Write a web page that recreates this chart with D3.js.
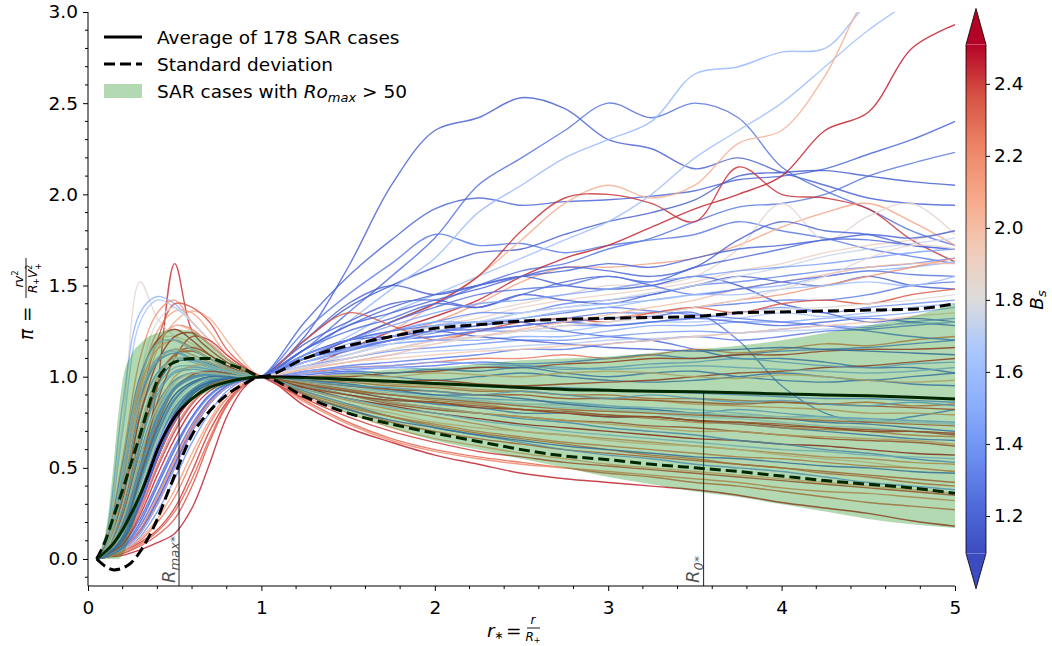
<!DOCTYPE html>
<html><head><meta charset="utf-8">
<script src="https://cdn.jsdelivr.net/npm/d3@7"></script>
<style>
body{margin:0;background:#fff}
svg{font-family:"DejaVu Sans",sans-serif}
</style>
</head><body>
<svg id="c" width="1052" height="646"></svg>
<script>
// ---------------- DATA ----------------
const rGrid = [0.05,0.1,0.2,0.3,0.4,0.5,0.6,0.7,0.8,0.9,1.0,1.25,1.5,1.75,2.0,2.25,2.5,2.75,3.0,3.25,3.5,3.75,4.0,4.25,4.5,4.75,5.0];

const caseBs = [1.20,1.26,1.22,1.28,1.18,1.30,1.58,1.62,2.05,2.45,2.42,2.10,1.85,1.90,1.25,1.35,1.20,1.55,1.30,1.40,1.65,1.20,2.15,2.35,1.80,1.25,1.50,1.30,
  2.30,1.30,2.40,1.45,2.20,1.25,2.45,1.60,2.00,2.35,1.20,2.25,1.70,2.50,1.35,2.15,1.40,2.30,1.55,2.40,1.25,2.10,1.30,2.45,
  2.45,2.30,2.20,2.40,2.10,
  1.45,2.25,1.25,2.45,1.60,2.05,1.20,2.35,1.45,2.25,1.35,1.75,2.40,
  1.40,1.25,1.70,1.30,1.20,1.95,
  1.22,1.75,1.45,2.00,1.28,1.60,1.22,1.85];

const caseValues = [
 [0,0.03,0.18,0.48,0.76,0.93,0.99,1.01,1.01,1.0,1,1.22,1.6,2.05,2.35,2.42,2.53,2.47,2.3,2.25,2.14,2.2,2.12,2.05,1.98,1.95,1.94],
 [0,0.02,0.13,0.36,0.63,0.83,0.93,0.98,0.99,1.0,1,1.15,1.35,1.55,1.76,2.05,2.2,2.35,2.5,2.42,2.5,2.42,2.15,2.02,1.92,1.8,1.72],
 [0,0.02,0.08,0.22,0.42,0.62,0.78,0.9,0.96,0.99,1,1.3,1.55,1.75,1.92,1.98,1.94,1.96,1.97,1.99,2.02,2.08,2.1,2.14,2.22,2.3,2.4],
 [0,0.04,0.25,0.58,0.85,0.98,1.02,1.02,1.01,1.0,1,1.1,1.2,1.3,1.4,1.5,1.58,1.62,1.7,1.76,1.85,1.93,1.95,2.0,2.1,2.17,2.23],
 [0,0.02,0.1,0.3,0.55,0.76,0.9,0.96,0.99,1.0,1,1.2,1.38,1.5,1.6,1.68,1.7,1.78,1.85,1.9,1.97,2.1,2.12,2.13,2.1,2.07,2.05],
 [0,0.03,0.2,0.5,0.78,0.94,1.0,1.01,1.01,1.0,1,1.25,1.45,1.62,1.78,1.72,1.73,1.68,1.72,1.75,1.78,1.85,1.8,1.76,1.7,1.66,1.62],
 [0,0.05,0.38,0.85,1.1,1.15,1.12,1.08,1.04,1.02,1,1.12,1.3,1.48,1.65,1.9,2.05,2.2,2.3,2.4,2.66,2.7,2.78,2.8,3.05,3.2,3.3],
 [0,0.04,0.3,0.7,0.95,1.05,1.06,1.04,1.02,1.01,1,1.1,1.22,1.35,1.45,1.55,1.65,1.75,1.85,2.0,2.2,2.35,2.5,2.7,2.9,3.05,3.1],
 [0,0.03,0.3,0.8,1.15,1.3,1.36,1.32,1.2,1.08,1,1.05,1.15,1.25,1.4,1.55,1.75,1.95,2.05,1.98,2.05,2.28,2.35,2.65,3.1,3.3,3.4],
 [0,0.02,0.1,0.3,0.55,0.75,0.88,0.95,0.98,0.99,1,1.05,1.15,1.25,1.33,1.42,1.55,1.65,1.72,1.82,1.92,2.0,2.1,2.35,2.45,2.8,2.93],
 [0,0.02,0.12,0.45,0.95,1.62,1.25,1.15,1.08,1.03,1,1.1,1.2,1.3,1.4,1.55,1.8,1.98,2.0,1.95,1.85,2.15,2.0,1.98,1.92,1.75,1.63],
 [0,0.05,0.4,0.95,1.25,1.36,1.35,1.25,1.12,1.05,1,1.08,1.15,1.22,1.3,1.4,1.52,1.6,1.6,1.62,1.65,1.72,1.82,1.9,1.95,1.85,1.72],
 [0,0.12,0.75,1.52,1.32,1.22,1.15,1.1,1.05,1.02,1,1.05,1.12,1.2,1.28,1.35,1.4,1.45,1.5,1.5,1.55,1.7,1.95,1.75,1.88,1.95,1.78],
 [0,0.06,0.5,1.0,1.2,1.22,1.18,1.12,1.06,1.02,1,1.08,1.15,1.22,1.28,1.32,1.38,1.42,1.45,1.48,1.52,1.58,1.62,1.68,1.72,1.75,1.8],
 [0,0.02,0.1,0.28,0.5,0.7,0.85,0.94,0.98,0.99,1,1.15,1.25,1.32,1.4,1.38,1.45,1.52,1.55,1.52,1.6,1.65,1.7,1.75,1.75,1.72,1.7],
 [0,0.03,0.15,0.42,0.7,0.88,0.96,0.99,1.0,1.0,1,1.12,1.2,1.25,1.3,1.35,1.35,1.4,1.42,1.45,1.5,1.52,1.55,1.58,1.6,1.62,1.65],
 [0,0.01,0.06,0.16,0.32,0.52,0.7,0.85,0.94,0.98,1,1.18,1.3,1.4,1.42,1.38,1.45,1.42,1.4,1.45,1.5,1.55,1.52,1.5,1.55,1.5,1.48],
 [0,0.1,0.85,1.35,1.44,1.4,1.3,1.2,1.1,1.04,1,1.1,1.18,1.25,1.3,1.3,1.35,1.38,1.4,1.42,1.45,1.48,1.5,1.55,1.58,1.6,1.63],
 [0,0.02,0.12,0.35,0.6,0.8,0.92,0.97,0.99,1.0,1,1.1,1.15,1.2,1.25,1.28,1.3,1.32,1.35,1.35,1.38,1.4,1.42,1.42,1.45,1.5,1.52],
 [0,0.03,0.22,0.55,0.82,0.97,1.02,1.02,1.01,1.0,1,1.08,1.15,1.2,1.22,1.25,1.25,1.28,1.28,1.3,1.32,1.35,1.38,1.35,1.38,1.4,1.42],
 [0,0.08,0.7,1.3,1.42,1.38,1.3,1.2,1.1,1.04,1,1.08,1.12,1.18,1.2,1.22,1.25,1.25,1.28,1.3,1.3,1.32,1.35,1.33,1.35,1.38,1.4],
 [0,0.02,0.1,0.3,0.55,0.75,0.88,0.95,0.98,0.99,1,1.2,1.4,1.5,1.45,1.5,1.55,1.5,1.48,1.5,1.55,1.5,1.4,1.35,1.3,1.32,1.3],
 [0,0.08,0.55,1.1,1.35,1.42,1.3,1.2,1.1,1.04,1,1.05,1.1,1.15,1.2,1.25,1.28,1.3,1.32,1.35,1.38,1.42,1.45,1.5,1.55,1.6,1.65],
 [0,0.04,0.35,0.85,1.2,1.4,1.38,1.3,1.15,1.06,1,1.2,1.35,1.28,1.2,1.25,1.3,1.32,1.3,1.35,1.38,1.35,1.4,1.42,1.4,1.45,1.48],
 [0,0.05,0.45,1.0,1.3,1.38,1.3,1.2,1.1,1.04,1,1.05,1.1,1.15,1.2,1.22,1.25,1.28,1.3,1.32,1.33,1.35,1.37,1.38,1.4,1.42,1.45],
 [0,0.02,0.11,0.3,0.55,0.76,0.9,0.96,0.99,1.0,1,1.12,1.2,1.25,1.28,1.3,1.3,1.25,1.22,1.2,1.15,1.1,1.1,1.08,1.05,1.05,1.02],
 [0,0.04,0.28,0.65,0.92,1.03,1.05,1.04,1.02,1.01,1,1.1,1.15,1.18,1.2,1.2,1.22,1.22,1.25,1.28,1.28,1.3,1.3,1.32,1.33,1.35,1.38],
 [0,0.03,0.16,0.45,0.72,0.9,0.97,1.0,1.0,1.0,1,1.1,1.15,1.2,1.22,1.25,1.28,1.3,1.32,1.33,1.35,1.2,0.95,0.8,0.75,0.78,0.82],
 [0,0.02,0.1,0.3,0.55,0.75,0.88,0.95,0.98,0.99,1,0.98,0.97,0.95,0.94,0.92,0.92,0.9,0.9,0.88,0.88,0.87,0.86,0.85,0.86,0.84,0.85],
 [0,0.05,0.38,0.8,1.02,1.1,1.1,1.07,1.04,1.02,1,1.02,1.04,1.05,1.06,1.08,1.07,1.08,1.1,1.12,1.1,1.12,1.14,1.15,1.16,1.18,1.2],
 [0,0.01,0.04,0.09,0.16,0.28,0.48,0.7,0.86,0.96,1,0.95,0.9,0.85,0.82,0.8,0.78,0.76,0.75,0.73,0.72,0.7,0.68,0.66,0.65,0.64,0.62],
 [0,0.06,0.45,0.9,1.1,1.15,1.12,1.08,1.04,1.02,1,0.97,0.95,0.92,0.9,0.88,0.87,0.86,0.84,0.82,0.8,0.82,0.8,0.78,0.77,0.76,0.75],
 [0,0.04,0.3,0.72,1.0,1.12,1.14,1.1,1.06,1.02,1,0.93,0.87,0.82,0.78,0.74,0.7,0.68,0.66,0.64,0.62,0.6,0.58,0.56,0.55,0.53,0.52],
 [0,0.02,0.14,0.4,0.68,0.87,0.96,0.99,1.0,1.0,1,1.0,1.02,1.0,0.98,1.0,1.02,1.0,0.98,0.97,0.98,1.0,1.02,1.0,0.98,1.0,1.02],
 [0,0.07,0.5,0.98,1.2,1.26,1.2,1.12,1.06,1.02,1,1.0,0.98,0.97,0.98,0.96,0.95,0.96,0.97,0.98,1.0,1.02,1.03,1.05,1.06,1.08,1.1],
 [0,0.03,0.2,0.52,0.8,0.95,1.0,1.01,1.01,1.0,1,0.95,0.92,0.9,0.88,0.87,0.85,0.85,0.84,0.83,0.82,0.8,0.78,0.78,0.76,0.75,0.74],
 [0,0.01,0.06,0.18,0.36,0.56,0.74,0.87,0.95,0.98,1,0.92,0.85,0.8,0.75,0.72,0.7,0.68,0.65,0.63,0.62,0.6,0.57,0.55,0.53,0.5,0.48],
 [0,0.01,0.03,0.07,0.13,0.22,0.4,0.64,0.84,0.95,1,0.9,0.82,0.75,0.7,0.66,0.63,0.6,0.58,0.56,0.54,0.52,0.5,0.48,0.46,0.44,0.42],
 [0,0.04,0.3,0.7,0.96,1.08,1.09,1.06,1.03,1.01,1,0.98,0.96,0.93,0.9,0.9,0.88,0.85,0.83,0.82,0.8,0.78,0.77,0.75,0.74,0.72,0.7],
 [0,0.05,0.42,0.92,1.18,1.28,1.26,1.18,1.1,1.04,1,1.02,1.05,1.06,1.08,1.1,1.1,1.12,1.1,1.12,1.15,1.13,1.15,1.18,1.17,1.2,1.22],
 [0,0.02,0.12,0.34,0.6,0.8,0.92,0.97,0.99,1.0,1,0.96,0.93,0.9,0.88,0.86,0.84,0.83,0.82,0.8,0.78,0.77,0.75,0.73,0.72,0.7,0.68],
 [0,0.01,0.05,0.14,0.3,0.5,0.7,0.85,0.94,0.98,1,0.94,0.88,0.84,0.8,0.77,0.74,0.72,0.7,0.68,0.66,0.65,0.63,0.62,0.6,0.58,0.57],
 [0,0.01,0.06,0.2,0.4,0.6,0.77,0.89,0.96,0.99,1,0.95,0.9,0.86,0.83,0.8,0.77,0.75,0.72,0.7,0.68,0.65,0.63,0.6,0.58,0.55,0.53],
 [0,0.06,0.48,0.95,1.15,1.2,1.16,1.1,1.05,1.02,1,0.99,0.98,0.96,0.95,0.93,0.92,0.9,0.88,0.87,0.85,0.84,0.83,0.82,0.8,0.8,0.79],
 [0,0.01,0.04,0.12,0.26,0.44,0.64,0.8,0.92,0.98,1,0.92,0.85,0.78,0.72,0.68,0.64,0.6,0.57,0.55,0.52,0.5,0.48,0.45,0.42,0.4,0.38],
 [0,0.02,0.09,0.26,0.5,0.7,0.85,0.94,0.98,0.99,1,0.91,0.84,0.78,0.73,0.69,0.66,0.63,0.6,0.57,0.55,0.52,0.5,0.47,0.45,0.42,0.4],
 [0,0.05,0.36,0.8,1.02,1.1,1.08,1.05,1.03,1.01,1,1.02,1.03,1.05,1.04,1.05,1.06,1.05,1.04,1.05,1.06,1.05,1.04,1.03,1.02,1.03,1.05],
 [0,0.03,0.24,0.62,0.95,1.12,1.16,1.12,1.06,1.02,1,0.97,0.95,0.93,0.92,0.9,0.9,0.88,0.88,0.87,0.86,0.85,0.86,0.85,0.84,0.83,0.82],
 [0,0.01,0.05,0.15,0.32,0.52,0.72,0.87,0.95,0.99,1,0.95,0.92,0.88,0.85,0.83,0.8,0.8,0.78,0.78,0.76,0.74,0.72,0.7,0.68,0.66,0.65],
 [0,0.03,0.2,0.52,0.82,1.0,1.06,1.06,1.03,1.01,1,0.95,0.9,0.86,0.83,0.8,0.78,0.76,0.74,0.72,0.7,0.7,0.68,0.67,0.66,0.65,0.63],
 [0,0.06,0.52,1.0,1.18,1.2,1.15,1.1,1.05,1.02,1,1.03,1.06,1.08,1.1,1.12,1.15,1.15,1.18,1.2,1.22,1.2,1.22,1.25,1.26,1.28,1.3],
 [0,0.04,0.32,0.78,1.08,1.22,1.24,1.18,1.1,1.04,1,1.0,1.0,1.02,1.03,1.05,1.05,1.07,1.08,1.1,1.1,1.12,1.12,1.14,1.15,1.15,1.16],
 [0,0.01,0.02,0.05,0.09,0.14,0.28,0.52,0.78,0.94,1,0.84,0.72,0.64,0.57,0.52,0.47,0.44,0.42,0.4,0.38,0.35,0.31,0.28,0.25,0.21,0.18],
 [0,0.01,0.03,0.08,0.15,0.26,0.44,0.66,0.85,0.96,1,0.87,0.75,0.66,0.6,0.56,0.53,0.5,0.47,0.45,0.42,0.4,0.37,0.34,0.31,0.29,0.27],
 [0,0.02,0.1,0.28,0.52,0.72,0.86,0.94,0.98,0.99,1,0.86,0.74,0.65,0.59,0.55,0.52,0.5,0.48,0.46,0.44,0.42,0.39,0.37,0.36,0.34,0.32],
 [0,0.02,0.16,0.5,0.86,1.1,1.22,1.2,1.12,1.05,1,0.88,0.78,0.7,0.64,0.59,0.56,0.53,0.51,0.49,0.47,0.45,0.43,0.41,0.39,0.37,0.35],
 [0,0.01,0.04,0.11,0.22,0.38,0.58,0.76,0.9,0.97,1,0.89,0.8,0.72,0.66,0.62,0.58,0.55,0.52,0.5,0.48,0.46,0.44,0.42,0.4,0.38,0.36],
 [0,0.02,0.12,0.36,0.62,0.82,0.93,0.98,0.99,1.0,1,0.98,0.95,0.94,0.92,0.9,0.92,0.9,0.88,0.9,0.88,0.86,0.87,0.85,0.84,0.86,0.84],
 [0,0.01,0.05,0.16,0.34,0.54,0.72,0.86,0.94,0.98,1,0.96,0.92,0.9,0.87,0.85,0.82,0.8,0.79,0.77,0.75,0.74,0.72,0.71,0.7,0.68,0.67],
 [0,0.03,0.2,0.5,0.78,0.94,1.0,1.01,1.01,1.0,1,1.01,1.03,1.02,1.04,1.03,1.05,1.02,1.0,1.02,1.03,1.0,0.98,0.97,0.98,0.96,0.95],
 [0,0.02,0.08,0.24,0.46,0.66,0.82,0.92,0.97,0.99,1,0.94,0.9,0.87,0.86,0.83,0.82,0.8,0.78,0.78,0.76,0.75,0.73,0.72,0.7,0.7,0.69],
 [0,0.01,0.05,0.14,0.3,0.5,0.7,0.85,0.94,0.98,1,0.93,0.88,0.83,0.8,0.76,0.73,0.7,0.68,0.66,0.64,0.62,0.6,0.59,0.57,0.56,0.55],
 [0,0.05,0.4,0.85,1.08,1.15,1.12,1.08,1.04,1.02,1,1.0,1.01,1.0,1.02,1.01,1.0,1.02,1.03,1.02,1.0,0.99,1.01,1.0,0.98,0.97,0.98],
 [0,0.02,0.1,0.3,0.56,0.78,0.91,0.97,0.99,1.0,1,0.9,0.82,0.76,0.72,0.68,0.65,0.62,0.6,0.58,0.56,0.55,0.53,0.51,0.5,0.48,0.47],
 [0,0.04,0.28,0.68,0.98,1.12,1.14,1.1,1.05,1.02,1,0.97,0.93,0.9,0.88,0.86,0.84,0.82,0.81,0.8,0.79,0.78,0.77,0.76,0.75,0.74,0.73],
 [0,0.04,0.26,0.62,0.9,1.02,1.04,1.03,1.02,1.01,1,1.03,1.05,1.06,1.08,1.07,1.06,1.04,1.05,1.07,1.08,1.1,1.08,1.06,1.05,1.07,1.08],
 [0,0.01,0.04,0.1,0.2,0.34,0.54,0.74,0.88,0.96,1,0.9,0.83,0.78,0.74,0.7,0.67,0.64,0.62,0.6,0.58,0.56,0.55,0.53,0.51,0.5,0.48],
 [0,0.05,0.42,0.88,1.08,1.13,1.1,1.06,1.03,1.01,1,0.99,0.98,0.97,0.96,0.95,0.94,0.94,0.93,0.92,0.91,0.9,0.89,0.88,0.88,0.87,0.86],
 [0,0.02,0.14,0.4,0.66,0.85,0.95,0.99,1.0,1.0,1,0.97,0.94,0.91,0.89,0.87,0.85,0.84,0.82,0.81,0.8,0.79,0.78,0.77,0.76,0.75,0.74],
 [0,0.03,0.18,0.46,0.74,0.93,1.01,1.03,1.02,1.01,1,0.96,0.92,0.88,0.86,0.84,0.82,0.81,0.79,0.78,0.76,0.75,0.74,0.72,0.71,0.7,0.68],
 [0,0.03,0.2,0.5,0.78,0.94,1.0,1.01,1.01,1.0,1,1.06,1.1,1.14,1.16,1.18,1.2,1.2,1.22,1.24,1.25,1.24,1.26,1.28,1.27,1.3,1.32],
 [0,0.02,0.11,0.32,0.58,0.8,0.92,0.97,0.99,1.0,1,1.1,1.16,1.22,1.25,1.26,1.28,1.3,1.28,1.3,1.32,1.3,1.28,1.3,1.32,1.3,1.28],
 [0,0.06,0.5,0.98,1.18,1.2,1.15,1.1,1.05,1.02,1,1.05,1.08,1.12,1.14,1.15,1.17,1.18,1.2,1.21,1.22,1.24,1.25,1.26,1.28,1.29,1.3],
 [0,0.01,0.07,0.2,0.4,0.6,0.78,0.9,0.96,0.99,1,1.08,1.14,1.2,1.24,1.28,1.32,1.35,1.38,1.36,1.34,1.32,1.3,1.28,1.25,1.22,1.2],
 [0,0.03,0.16,0.44,0.72,0.9,0.97,1.0,1.0,1.0,1,1.12,1.2,1.22,1.25,1.22,1.2,1.18,1.16,1.15,1.14,1.15,1.16,1.15,1.14,1.13,1.12],
 [0,0.04,0.3,0.7,0.98,1.1,1.1,1.06,1.03,1.01,1,1.04,1.08,1.1,1.12,1.14,1.15,1.17,1.18,1.2,1.22,1.24,1.26,1.28,1.3,1.33,1.35],
 [0,0.02,0.1,0.3,0.56,0.77,0.9,0.96,0.99,1.0,1,1.15,1.28,1.38,1.45,1.5,1.55,1.58,1.62,1.6,1.65,1.7,1.72,1.75,1.78,1.76,1.8],
 [0,0.04,0.3,0.72,1.0,1.1,1.1,1.06,1.03,1.01,1,1.06,1.12,1.18,1.25,1.3,1.35,1.38,1.42,1.46,1.5,1.55,1.6,1.66,1.7,1.73,1.76],
 [0,0.03,0.18,0.48,0.76,0.93,0.99,1.01,1.01,1.0,1,1.12,1.2,1.28,1.35,1.4,1.42,1.45,1.48,1.52,1.55,1.58,1.6,1.62,1.65,1.68,1.7],
 [0,0.05,0.4,0.9,1.18,1.28,1.25,1.18,1.1,1.04,1,1.04,1.08,1.12,1.18,1.22,1.26,1.3,1.34,1.38,1.42,1.48,1.52,1.56,1.6,1.62,1.62],
 [0,0.01,0.06,0.18,0.36,0.56,0.74,0.87,0.95,0.98,1,1.1,1.2,1.3,1.38,1.45,1.48,1.5,1.55,1.5,1.45,1.48,1.52,1.55,1.58,1.56,1.55],
 [0,0.06,0.45,0.9,1.1,1.14,1.1,1.06,1.03,1.01,1,1.08,1.15,1.22,1.28,1.3,1.32,1.36,1.38,1.42,1.45,1.45,1.48,1.5,1.52,1.5,1.55],
 [0,0.02,0.12,0.34,0.6,0.8,0.92,0.97,0.99,1.0,1,1.15,1.28,1.35,1.42,1.48,1.55,1.6,1.58,1.55,1.6,1.75,1.85,1.8,1.78,1.72,1.7],
 [0,0.03,0.22,0.56,0.84,0.97,1.02,1.02,1.01,1.0,1,1.05,1.1,1.15,1.18,1.22,1.25,1.28,1.3,1.34,1.38,1.42,1.48,1.55,1.65,1.72,1.7]
];

// statistics grid
const statR = [0.05,0.1,0.15,0.2,0.25,0.3,0.35,0.4,0.45,0.5,0.6,0.7,0.8,0.9,1.0,1.25,1.5,1.75,2.0,2.25,2.5,2.75,3.0,3.25,3.5,3.75,4.0,4.25,4.5,4.75,5.0];
const meanV  = [0,0.04,0.09,0.16,0.25,0.35,0.47,0.6,0.7,0.78,0.88,0.94,0.97,0.99,1.0,0.995,0.985,0.975,0.962,0.952,0.94,0.93,0.925,0.92,0.918,0.912,0.905,0.9,0.895,0.887,0.878];
const stdUpV = [0,0.1,0.24,0.38,0.53,0.68,0.84,0.98,1.05,1.08,1.1,1.1,1.07,1.04,1.0,1.1,1.17,1.22,1.265,1.285,1.305,1.315,1.32,1.325,1.33,1.35,1.355,1.36,1.365,1.37,1.40];
const stdLoV = [0,-0.04,-0.06,-0.05,-0.02,0.04,0.12,0.22,0.34,0.46,0.68,0.81,0.9,0.96,1.0,0.89,0.8,0.74,0.69,0.645,0.6,0.565,0.545,0.52,0.5,0.48,0.455,0.43,0.41,0.39,0.36];

// Ro_max > 50 envelope
const bandR  = [0.05,0.08,0.11,0.14,0.17,0.2,0.25,0.3,0.35,0.4,0.5,0.6,0.7,0.8,0.9,1.0,1.25,1.5,1.75,2.0,2.25,2.5,2.75,3.0,3.25,3.5,3.75,4.0,4.25,4.5,4.75,5.0];
const bandHi = [0,0.06,0.2,0.45,0.75,0.98,1.12,1.18,1.22,1.24,1.26,1.25,1.18,1.1,1.05,1.0,1.0,1.02,1.04,1.05,1.07,1.09,1.1,1.11,1.13,1.15,1.17,1.2,1.24,1.28,1.33,1.4];
const bandLo = [0,0,0,0,0,0.02,0.15,0.32,0.5,0.64,0.8,0.87,0.92,0.95,0.98,1.0,0.9,0.8,0.72,0.65,0.6,0.55,0.5,0.45,0.41,0.37,0.34,0.3,0.26,0.22,0.19,0.17];

const rMaxStar = 0.525, r0Star = 3.55;
const xTicks = [0,1,2,3,4,5];
const yTicks = [0,0.5,1,1.5,2,2.5,3];
const cbTicks = [1.2,1.4,1.6,1.8,2.0,2.2,2.4];
const bsMin = 1.096, bsMax = 2.509;
const legendLabels = ["Average of 178 SAR cases","Standard deviation","SAR cases with "];

// ---------------- SCALES ----------------
const svg = d3.select("#c");
const L = 88, R = 955, T = 12, B = 586;
const x = d3.scaleLinear().domain([0,5]).range([L,R]);
const y = d3.scaleLinear().domain([-0.148,3]).range([B,T]);

const cwStops = [0,0.1,0.2,0.3,0.4,0.5,0.6,0.7,0.8,0.9,1];
const cwCols = ["#3b4cc0","#516ddb","#6f92f3","#8db0fe","#aac7fd","#dddcdc","#f2cbb7","#f7a889","#ed8366","#d65244","#b40426"];
const cw = d3.scaleLinear().domain(cwStops).range(cwCols).interpolate(d3.interpolateRgb).clamp(true);
const norm = d3.scaleLinear().domain([bsMin,bsMax]).range([0,1]).clamp(true);

svg.append("defs").append("clipPath").attr("id","clip")
  .append("rect").attr("x",L).attr("y",T).attr("width",R-L).attr("height",B-T);

const plot = svg.append("g").attr("clip-path","url(#clip)");
const line = d3.line().x(d=>x(d[0])).y(d=>y(d[1])).curve(d3.curveCatmullRom.alpha(0.5));

caseValues.forEach((vals,i)=>{
  plot.append("path").datum(vals.map((v,j)=>[rGrid[j],v]))
    .attr("d",line).attr("fill","none")
    .attr("stroke",cw(norm(caseBs[i]))).attr("stroke-width",1.4)
    .attr("stroke-opacity",0.85).attr("stroke-linejoin","round");
});

// vertical markers
[rMaxStar,r0Star].forEach(rv=>{
  const mv = d3.scaleLinear().domain(statR).range(meanV)(rv);
  plot.append("line").attr("x1",x(rv)).attr("x2",x(rv)).attr("y1",B).attr("y2",y(mv))
    .attr("stroke","#000").attr("stroke-width",1.1).attr("stroke-opacity",0.8);
});

// mean & std
const statLine = d3.line().x(d=>x(d[0])).y(d=>y(d[1])).curve(d3.curveMonotoneX);
plot.append("path").datum(statR.map((r,i)=>[r,meanV[i]])).attr("d",statLine)
  .attr("fill","none").attr("stroke","#000").attr("stroke-width",3);
[stdUpV,stdLoV].forEach(arr=>{
  plot.append("path").datum(statR.map((r,i)=>[r,arr[i]])).attr("d",statLine)
    .attr("fill","none").attr("stroke","#000").attr("stroke-width",3)
    .attr("stroke-dasharray","11,5");
});

// green band on top
const area = d3.area().x(d=>x(d[0])).y0(d=>y(d[1])).y1(d=>y(d[2])).curve(d3.curveMonotoneX);
plot.append("path").datum(bandR.map((r,i)=>[r,bandLo[i],bandHi[i]])).attr("d",area)
  .attr("fill","#008000").attr("fill-opacity",0.3);

// marker labels
function markLabel(px, sub){
  const t = svg.append("text").attr("transform",`translate(${px},583) rotate(-90)`)
    .attr("font-size",18).attr("fill","#333").attr("fill-opacity",0.85).attr("font-style","italic");
  t.append("tspan").text("R");
  t.append("tspan").attr("font-size",13).attr("dy",4).text(sub);
}
markLabel(x(rMaxStar)-4,"max*");
markLabel(x(r0Star)-5,"0*");

// ---------------- AXES ----------------
const fs = 18.5;
const xAx = svg.append("g").attr("transform",`translate(0,${B})`)
  .call(d3.axisBottom(x).tickValues(xTicks).tickFormat(d3.format("d")).tickSize(5).tickPadding(5));
const yAx = svg.append("g").attr("transform",`translate(${L},0)`)
  .call(d3.axisLeft(y).tickValues(yTicks).tickFormat(d3.format(".1f")).tickSize(5).tickPadding(5));
[xAx,yAx].forEach(a=>{
  a.select(".domain").remove();
  a.selectAll("text").attr("font-size",fs).attr("font-family","DejaVu Sans").attr("fill","#000");
  a.selectAll("line").attr("stroke","#000").attr("stroke-width",1);
});
xAx.selectAll("text").attr("dy","0.95em");
// minor ticks
const xMinor = d3.range(0,5.001,0.2).filter(v=>Math.abs(v-Math.round(v))>1e-6);
svg.append("g").selectAll("line").data(xMinor).join("line")
  .attr("x1",d=>x(d)).attr("x2",d=>x(d)).attr("y1",B).attr("y2",B+3).attr("stroke","#000");
const yMinor = d3.range(-0.1,3.001,0.1).filter(v=>Math.abs(v*2-Math.round(v*2))>1e-6);
svg.append("g").selectAll("line").data(yMinor).join("line")
  .attr("y1",d=>y(d)).attr("y2",d=>y(d)).attr("x1",L).attr("x2",L-3).attr("stroke","#000");
// spines
svg.append("line").attr("x1",L).attr("x2",L).attr("y1",T).attr("y2",B).attr("stroke","#000");
svg.append("line").attr("x1",L).attr("x2",R).attr("y1",B).attr("y2",B).attr("stroke","#000");

// x label
const xl = svg.append("text").attr("x",487).attr("y",637).attr("font-size",fs);
xl.append("tspan").attr("font-style","italic").text("r");
xl.append("tspan").attr("font-size",11).attr("dy",2).text("∗");
svg.append("text").attr("x",506).attr("y",637).attr("font-size",fs).text("=");
svg.append("text").attr("x",533).attr("y",624).attr("font-size",12).attr("text-anchor","middle")
  .attr("font-style","italic").text("r");
svg.append("line").attr("x1",527).attr("x2",540).attr("y1",628).attr("y2",628).attr("stroke","#000").attr("stroke-width",0.9);
const xd = svg.append("text").attr("x",533).attr("y",641).attr("font-size",12).attr("text-anchor","middle");
xd.append("tspan").attr("font-style","italic").text("R");
xd.append("tspan").attr("font-size",8).attr("dy",2).text("+");

// y label
const yl = svg.append("g").attr("transform","translate(26,300) rotate(-90)");
yl.append("text").attr("x",-40).attr("y",7).attr("font-size",fs).attr("font-style","italic").text("π");
yl.append("text").attr("x",-22).attr("y",7).attr("font-size",fs).text("=");
const yn = yl.append("text").attr("x",21).attr("y",-3).attr("font-size",12).attr("text-anchor","middle");
yn.append("tspan").attr("font-style","italic").text("rv");
yn.append("tspan").attr("font-size",8).attr("dy",-5).text("2");
yl.append("line").attr("x1",2).attr("x2",42).attr("y1",0).attr("y2",0).attr("stroke","#000").attr("stroke-width",0.9);
const yd = yl.append("text").attr("x",22).attr("y",11).attr("font-size",12).attr("text-anchor","middle");
yd.append("tspan").attr("font-style","italic").text("R");
yd.append("tspan").attr("font-size",8).attr("dy",2).text("+");
yd.append("tspan").attr("font-style","italic").attr("font-size",12).attr("dy",-2).text("V");
yd.append("tspan").attr("font-size",8).attr("dy",-5).text("2");
yd.append("tspan").attr("font-size",8).attr("dx",-5).attr("dy",9).text("+");

// ---------------- LEGEND ----------------
const lg = svg.append("g");
lg.append("line").attr("x1",104).attr("x2",142).attr("y1",37).attr("y2",37).attr("stroke","#000").attr("stroke-width",3);
lg.append("line").attr("x1",104).attr("x2",142).attr("y1",64).attr("y2",64).attr("stroke","#000").attr("stroke-width",3).attr("stroke-dasharray","11,5");
lg.append("rect").attr("x",104).attr("y",84).attr("width",38).attr("height",14).attr("fill","#008000").attr("fill-opacity",0.3);
lg.append("text").attr("x",157).attr("y",44).attr("font-size",fs).text(legendLabels[0]);
lg.append("text").attr("x",157).attr("y",71).attr("font-size",fs).text(legendLabels[1]);
const l3 = lg.append("text").attr("x",157).attr("y",98).attr("font-size",fs);
l3.append("tspan").text(legendLabels[2]);
l3.append("tspan").attr("font-style","italic").text("Ro");
l3.append("tspan").attr("font-style","italic").attr("font-size",13).attr("dy",4).text("max");
l3.append("tspan").attr("dy",-4).text(" > 50");

// ---------------- COLORBAR ----------------
const cbx0 = 966, cbx1 = 986;
const cbY = d3.scaleLinear().domain([bsMin,bsMax]).range([553.4,44.6]);
const grad = svg.select("defs").append("linearGradient").attr("id","cwg")
  .attr("x1",0).attr("y1",1).attr("x2",0).attr("y2",0);
cwStops.forEach((s,i)=>grad.append("stop").attr("offset",s).attr("stop-color",cwCols[i]));
svg.append("rect").attr("x",cbx0).attr("y",cbY(bsMax)).attr("width",cbx1-cbx0)
  .attr("height",cbY(bsMin)-cbY(bsMax)).attr("fill","url(#cwg)");
const tipTop = 8.4, tipBot = 588.8, mid = (cbx0+cbx1)/2;
svg.append("path").attr("d",`M${cbx0},${cbY(bsMax)}L${mid},${tipTop}L${cbx1},${cbY(bsMax)}Z`).attr("fill",cwCols[10]);
svg.append("path").attr("d",`M${cbx0},${cbY(bsMin)}L${mid},${tipBot}L${cbx1},${cbY(bsMin)}Z`).attr("fill",cwCols[0]);
svg.append("path").attr("d",`M${cbx0},${cbY(bsMin)}L${cbx0},${cbY(bsMax)}L${mid},${tipTop}L${cbx1},${cbY(bsMax)}L${cbx1},${cbY(bsMin)}L${mid},${tipBot}Z`)
  .attr("fill","none").attr("stroke","#000").attr("stroke-width",0.8);
const cbAx = svg.append("g").attr("transform",`translate(${cbx1},0)`)
  .call(d3.axisRight(cbY).tickValues(cbTicks).tickFormat(d3.format(".1f")).tickSize(4).tickPadding(4));
cbAx.select(".domain").remove();
cbAx.selectAll("text").attr("font-size",fs).attr("font-family","DejaVu Sans").attr("fill","#000");
const cbl = svg.append("text").attr("transform","translate(1043,300) rotate(-90)")
  .attr("text-anchor","middle").attr("font-size",fs);
cbl.append("tspan").attr("font-style","italic").text("B");
cbl.append("tspan").attr("font-style","italic").attr("font-size",13).attr("dy",3).text("s");
</script>
</body></html>
